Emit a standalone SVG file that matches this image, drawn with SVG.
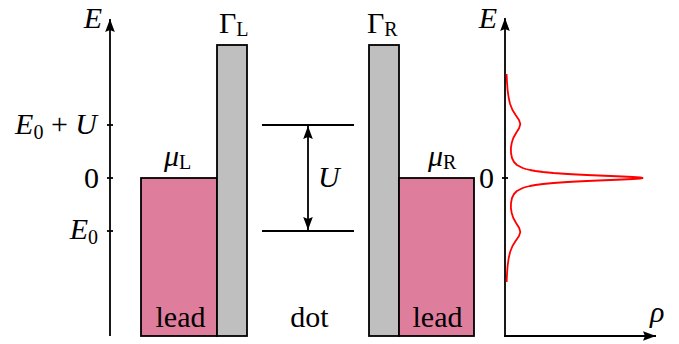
<svg xmlns="http://www.w3.org/2000/svg" width="679" height="344" viewBox="0 0 679 344" font-family="'Liberation Serif', 'DejaVu Serif', serif">
<style>
text{font-family:'Liberation Serif','DejaVu Serif',serif;font-size:30px;fill:#000}
.i{font-style:italic}
.sub{font-size:20px;font-style:normal}
.ax{stroke:#000;stroke-width:1.8;fill:none}
.box{stroke:#000;stroke-width:1.8}
.lead{fill:#DF7E9C}
.bar{fill:#BFBFBF}
.lvl{stroke:#000;stroke-width:1.8;fill:none}
</style>
<defs>
<marker id="ah" viewBox="-13 -5 14 10" refX="0" refY="0" markerWidth="14" markerHeight="10" markerUnits="userSpaceOnUse" orient="auto">
<path d="M0,0 L-13,-4.8 L-11,0 L-13,4.8 Z" fill="#000"/>
</marker>
</defs>
<g id="left-lead">
<rect class="box lead" x="141" y="178" width="76" height="158"/>
<text x="180.5" y="327" text-anchor="middle">lead</text>
<text x="164" y="166" class="i">μ<tspan class="sub" dy="3">L</tspan></text>
</g>
<g id="left-barrier">
<rect class="box bar" x="217" y="45" width="30" height="291"/>
<text x="219" y="33">Γ<tspan class="sub" dy="3">L</tspan></text>
</g>
<g id="dot">
<line class="lvl" x1="262" y1="125" x2="354" y2="125"/>
<line class="lvl" x1="262" y1="231" x2="354" y2="231"/>
<text x="309.5" y="327" text-anchor="middle">dot</text>
<text x="318" y="187" class="i">U</text>
</g>
<g id="right-barrier">
<rect class="box bar" x="369" y="45" width="30" height="291"/>
<text x="367" y="33">Γ<tspan class="sub" dy="3">R</tspan></text>
</g>
<g id="right-lead">
<rect class="box lead" x="399" y="178" width="75" height="158"/>
<text x="437.5" y="327" text-anchor="middle">lead</text>
<text x="428" y="166" class="i">μ<tspan class="sub" dy="3">R</tspan></text>
</g>
<g id="energy-axis">
<line class="ax" x1="110" y1="336" x2="110" y2="19" marker-end="url(#ah)"/>
<line class="ax" x1="107" y1="125" x2="113" y2="125"/>
<line class="ax" x1="107" y1="178" x2="113" y2="178"/>
<line class="ax" x1="107" y1="231" x2="113" y2="231"/>
<text x="102" y="28" class="i" text-anchor="end">E</text>
<text x="97" y="134" text-anchor="end"><tspan class="i">E</tspan><tspan class="sub" dy="5">0</tspan><tspan dy="-5"> + </tspan><tspan class="i">U</tspan></text>
<text x="99" y="188" text-anchor="end">0</text>
<text x="98" y="239" text-anchor="end"><tspan class="i">E</tspan><tspan class="sub" dy="5">0</tspan></text>
</g>
<g id="dos-plot">
<line class="ax" x1="505" y1="336" x2="505" y2="18" marker-end="url(#ah)"/>
<line class="ax" x1="504" y1="336" x2="656" y2="336" marker-end="url(#ah)"/>
<line class="ax" x1="502" y1="178" x2="508" y2="178"/>
<text x="497" y="28" class="i" text-anchor="end">E</text>
<text x="494" y="188" text-anchor="end">0</text>
<text x="650" y="322" class="i">ρ</text>
<path fill="none" stroke="#FF0000" stroke-width="1.8" stroke-linejoin="round" d="M506.6,74 L507.0,82 L507.6,90 L508.7,98 L510.1,104 L512.5,110 L515.6,115 L519.0,120 L520.3,124 L519.2,128 L516.1,133 L513.3,138 L511.7,143 L510.9,148 L511.0,153 L512.0,158 L514.0,162 L516.9,165 L522.7,168 L525.8,169 L529.9,170 L535.4,171 L543.0,172 L553.4,173 L567.7,174 L576.7,174.5 L587.0,175 L598.5,175.5 L610.5,176 L622.5,176.5 L632.8,177 L640.0,177.5 L642.5,178 L640.0,178.5 L632.8,179 L622.5,179.5 L610.5,180 L598.5,180.5 L587.0,181 L576.7,181.5 L567.7,182 L553.4,183 L543.0,184 L535.4,185 L529.9,186 L525.8,187 L522.7,188 L516.9,191 L514.0,194 L512.0,198 L511.0,203 L510.9,208 L511.7,213 L513.3,218 L516.1,223 L519.2,228 L520.3,232 L519.0,236 L515.6,241 L512.5,246 L510.1,252 L508.7,258 L507.6,266 L507.0,274 L506.6,282"/>
</g>
<g id="connectors">
<line class="lvl" x1="308" y1="178" x2="308" y2="126" marker-end="url(#ah)"/>
<line class="lvl" x1="308" y1="178" x2="308" y2="230" marker-end="url(#ah)"/>
</g>
</svg>
